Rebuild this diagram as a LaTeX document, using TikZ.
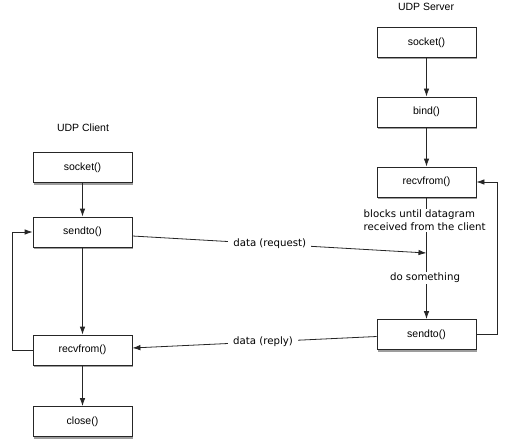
\documentclass[tikz,border=0pt]{standalone}
\usepackage{fontspec}
\setmainfont{Liberation Sans}
\newfontfamily\annfont{DejaVu Sans}
\usetikzlibrary{arrows.meta,shadows}
\begin{document}
\begin{tikzpicture}[x=1pt,y=-1pt,
  box/.style={draw=black!85, fill=white, line width=0.8pt, minimum width=99pt, minimum height=30pt, inner sep=0pt,
    font=\fontsize{10.5}{12}\selectfont,
    drop shadow={shadow xshift=0.8pt, shadow yshift=-2pt, opacity=0.55, fill=black!70}},
  title/.style={font=\fontsize{10.5}{12}\selectfont},
  ann/.style={font=\annfont\fontsize{10.2}{13}\selectfont, fill=white, inner sep=1.5pt},
  dlabel/.style={ann, inner xsep=5pt},
  conn/.style={draw=black!85, line width=0.8pt},
  arr/.style={conn, -{Latex[length=8pt,width=5.5pt]}}
]
\useasboundingbox (0,0) rectangle (510,441);

% titles
\node[title] (tclient) at (83,128) {UDP Client};
\node[title] (tserver) at (426,7) {UDP Server};

% client boxes
\node[box] (csock)  at (82.5,167.5) {socket()};
\node[box] (csend)  at (82.5,232)   {sendto()};
\node[box] (crecv)  at (82.5,350)   {recvfrom()};
\node[box] (cclose) at (82.5,421.5) {close()};

% server boxes
\node[box] (ssock) at (426.5,42.5) {socket()};
\node[box] (sbind) at (426.5,112)  {bind()};
\node[box] (srecv) at (426.5,182)  {recvfrom()};
\node[box] (ssend) at (426.5,334.5){sendto()};

\coordinate (rq) at (426.5,253);

% client flow
\draw[arr] (csock) -- (csend);
\draw[arr] (csend) -- (crecv);
\draw[arr] (crecv) -- (cclose);
\draw[arr] (crecv.west) -- ++(-20,0) |- (csend.west);

% server flow
\draw[arr] (ssock) -- (sbind);
\draw[arr] (sbind) -- (srecv);
\draw[arr] (srecv) -- (ssend);
\draw[arr] (ssend.east) -- ++(21,0) |- (srecv.east);

% data exchange
\draw[arr] ([yshift=-4pt]csend.east) -- node[dlabel, pos=0.467] (lreq) {data (request)} (rq);
\draw[arr] ([yshift=-2pt]ssend.west) -- node[dlabel, pos=0.465] (lrep) {data (reply)} ([yshift=2pt]crecv.east);

% annotations
\node[ann, anchor=west, align=left] (blk) at (362,220.5) {blocks until datagram\\received from the client};
\node[ann] (dos) at (425,278) {do something};
\end{tikzpicture}
\end{document}
